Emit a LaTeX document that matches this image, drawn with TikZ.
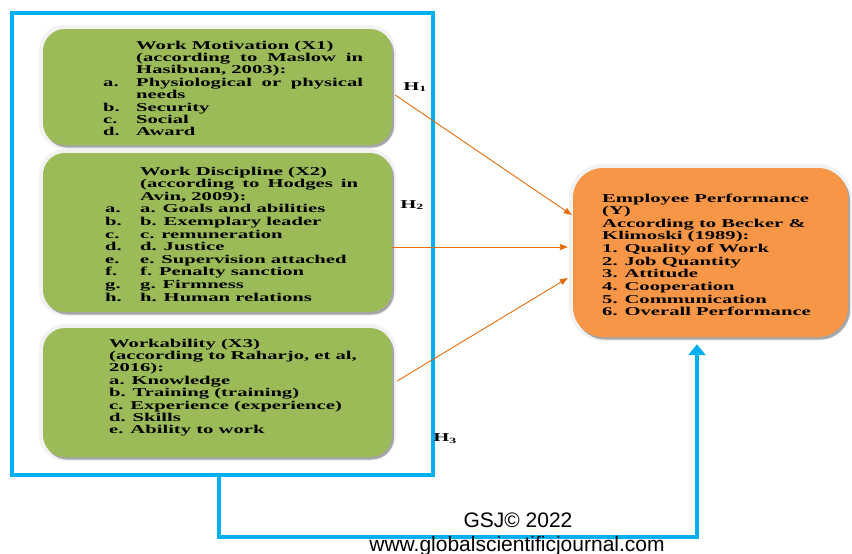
\documentclass[tikz,border=0pt]{standalone}
\usepackage{fontspec}
\usetikzlibrary{arrows.meta,shadows}
\newfontfamily\bxfont[FakeStretch=1.72]{Liberation Serif Bold}
\newfontfamily\sansf{Liberation Sans}
\definecolor{gfill}{HTML}{9BBB59}
\definecolor{ofill}{HTML}{F79646}
\definecolor{bline}{HTML}{00B0F0}
\definecolor{oline}{HTML}{E46C0A}
\newcommand\itlab[2]{\llap{\makebox[#1][l]{#2}}}
\tikzset{
 card/.style={rectangle, inner sep=0pt, preaction={draw=black!5, line width=8pt}, drop shadow={shadow xshift=2pt, shadow yshift=-2.5pt, fill=black!35, opacity=1}},
 gcard/.style={card, fill=gfill, rounded corners=22pt},
 ocard/.style={card, fill=ofill, rounded corners=30pt},
 txt/.style={anchor=base west, inner sep=0pt},
 hyp/.style={inner sep=0pt, font=\bxfont\fontsize{12}{12}\selectfont},
 harrow/.style={draw=oline, line width=0.9pt, -{Triangle[length=8pt,width=6pt]}},
 bframe/.style={draw=bline, line width=4.5pt},
 foot/.style={anchor=base, inner sep=0pt, font=\sansf\fontsize{21}{21}\selectfont},
}
\begin{document}
\begin{tikzpicture}[x=1pt,y=-1pt]
\useasboundingbox (0,0) rectangle (852,554);
% blue frame
\node[bframe, minimum width=421pt, minimum height=462pt] (frame) at (222.5,244) {};
% boxes
\node[gcard, minimum width=349pt, minimum height=116pt] (g1) at (217.5,87) {};
\node[gcard, minimum width=349pt, minimum height=159pt] (g2) at (217.5,232.5) {};
\node[gcard, minimum width=349pt, minimum height=129pt] (g3) at (217.5,392.5) {};
\node[ocard, minimum width=275pt, minimum height=169pt] (y) at (710.5,252.5) {};
% texts
\node[txt] (t1) at (136,49) {\parbox[t]{227pt}{\bxfont\fontsize{12}{12.4}\selectfont
Work Motivation (X1)\\
\makebox[227pt][s]{(according to Maslow in}\\
Hasibuan, 2003):\\
\itlab{33pt}{a.}\makebox[227pt][s]{Physiological or physical}\\
needs\\
\itlab{33pt}{b.}Security\\
\itlab{33pt}{c.}Social\\
\itlab{33pt}{d.}Award}};
\node[txt] (t2) at (140,175) {\parbox[t]{218pt}{\bxfont\fontsize{12}{12.6}\selectfont
Work Discipline (X2)\\
\makebox[218pt][s]{(according to Hodges in}\\
Avin, 2009):\\
\itlab{35pt}{a.}a. Goals and abilities\\
\itlab{35pt}{b.}b. Exemplary leader\\
\itlab{35pt}{c.}c. remuneration\\
\itlab{35pt}{d.}d. Justice\\
\itlab{35pt}{e.}e. Supervision attached\\
\itlab{35pt}{f.}f. Penalty sanction\\
\itlab{35pt}{g.}g. Firmness\\
\itlab{35pt}{h.}h. Human relations}};
\node[txt] (t3) at (109,347) {\parbox[t]{250pt}{\bxfont\fontsize{12}{12.4}\selectfont
Workability (X3)\\
(according to Raharjo, et al,\\
2016):\\
a. Knowledge\\
b. Training (training)\\
c. Experience (experience)\\
d. Skills\\
e. Ability to work}};
\node[txt] (ty) at (602,202) {\parbox[t]{210pt}{\bxfont\fontsize{12}{12.65}\selectfont
Employee Performance\\
(Y)\\
According to Becker \&\\
Klimoski (1989):\\
1. Quality of Work\\
2. Job Quantity\\
3. Attitude\\
4. Cooperation\\
5. Communication\\
6. Overall Performance}};
% hypothesis arrows
\draw[harrow] ([shift={(3,8)}]g1.east) -- ([shift={(-1,-37.5)}]y.west);
\draw[harrow] ([shift={(0,14.5)}]g2.east) -- ([shift={(-5,-5.5)}]y.west);
\draw[harrow] ([shift={(5,-11.5)}]g3.east) -- ([shift={(-5,25.5)}]y.west);
% feedback blue arrow
\coordinate (fbc) at (697,537);
\draw[bline, line width=4.5pt, -{Triangle[length=11pt,width=17pt]}] ([xshift=-3.5pt]frame.south) |- (fbc) -- ([shift={(-13.5,7)}]y.south);
% labels
\node[hyp] (h1) at (415,87) {H\textsubscript{1}};
\node[hyp] (h2) at (412,205) {H\textsubscript{2}};
\node[hyp] (h3) at (445,439) {H\textsubscript{3}};
% footer
\node[foot] (gsj) at (518,527) {GSJ© 2022};
\node[foot] (web) at (517,551) {www.globalscientificjournal.com};
\end{tikzpicture}
\end{document}
